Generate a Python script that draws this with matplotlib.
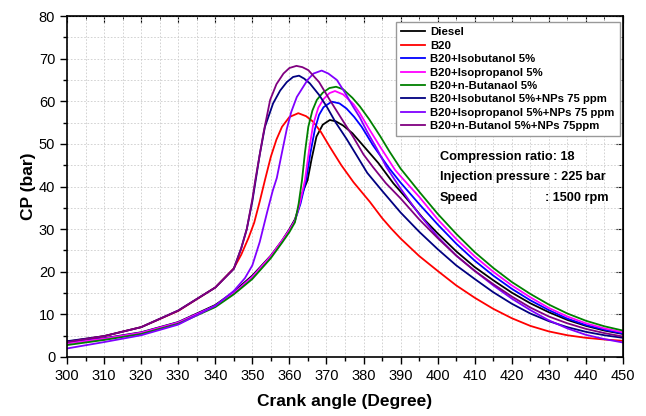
import numpy as np
import matplotlib
matplotlib.use("Agg")
import matplotlib.pyplot as plt
from matplotlib.ticker import MultipleLocator

plt.rcParams['font.family'] = ['Liberation Sans', 'DejaVu Sans']

# crank angle (deg) / cylinder pressure (bar)
diesel_x = [300, 310, 320, 330, 340, 345, 350, 355, 358, 360, 361.5, 362.5, 363.5, 364.9, 366, 367.3,
            369, 370.9, 372.5, 374.5, 377, 380, 384, 388, 392, 396, 400, 405, 410, 415, 420, 425,
            430, 435, 440, 445, 450]
diesel_y = [3.4, 4.4, 5.8, 8.2, 12.2, 15.3, 19.1, 23.8, 27.3, 30.0, 32.3, 35.0, 38.5, 41.5, 46.5, 51.7,
            54.5, 55.6, 55.3, 54.3, 52.5, 49.5, 45.5, 40.8, 36.8, 32.6, 29.0, 24.8, 21.1, 18.0, 15.1, 12.6,
            10.5, 8.7, 7.3, 6.2, 5.4]

b20_x = [300, 310, 320, 330, 340, 345, 347, 349, 350.5, 352, 353.4, 355, 356.5, 358, 360, 362.4,
         364.5, 366.4, 368.5, 370.9, 374, 377.3, 381.7, 385, 387.5, 390, 395, 400, 405, 410, 415, 420,
         425, 430, 435, 440, 445, 450]
b20_y = [3.6, 4.9, 7.0, 10.8, 16.3, 20.8, 24.0, 28.0, 31.5, 36.5, 41.5, 47.0, 51.0, 54.0, 56.3, 57.2,
         56.5, 55.2, 52.8, 49.3, 45.0, 41.0, 36.4, 32.6, 30.1, 27.8, 23.7, 20.2, 16.8, 13.9, 11.3, 9.1,
         7.3, 6.0, 5.1, 4.5, 4.1, 3.8]

isobut_x = [300, 310, 320, 330, 340, 345, 350, 355, 358, 360, 361.5, 363, 364.5, 365.7, 366.9, 368,
            369.2, 371.4, 373.5, 375.4, 377.5, 379.5, 382.6, 386.9, 390, 395, 400, 405, 410, 415, 420,
            425, 430, 435, 440, 445, 450]
isobut_y = [3.3, 4.3, 5.7, 8.1, 12.0, 15.0, 18.8, 23.6, 27.2, 29.7, 32.0, 36.0, 41.5, 48.0, 53.5, 56.8,
            58.6, 59.9, 59.5, 58.3, 56.3, 54.0, 49.6, 44.3, 40.9, 35.9, 31.1, 26.6, 22.6, 19.1, 16.0,
            13.3, 11.0, 9.0, 7.5, 6.4, 5.5]

isoprop_x = [300, 310, 320, 330, 340, 345, 350, 355, 358, 360, 361.5, 362.8, 364.2, 365.3, 366.4, 367.8,
             369.2, 370.8, 372.3, 374.5, 377.3, 379, 381.5, 384.5, 388.5, 390, 395, 400, 405, 410, 415,
             420, 425, 430, 435, 440, 445, 450]
isoprop_y = [3.2, 4.3, 5.7, 8.1, 12.0, 15.0, 18.8, 23.7, 27.3, 29.8, 32.0, 36.0, 41.5, 48.5, 54.5, 58.5,
             60.5, 61.9, 62.4, 61.6, 59.3, 57.2, 53.5, 49.3, 43.9, 42.4, 37.6, 32.3, 27.7, 23.6, 20.0,
             16.8, 14.0, 11.5, 9.5, 7.9, 6.7, 5.8]

nbut_x = [300, 310, 320, 330, 340, 345, 350, 355, 358, 360, 361.5, 362.5, 363.4, 364.2, 365.1, 366.2,
          367.4, 369, 370.8, 372.6, 374.5, 377, 379, 381.5, 384.5, 387, 390, 395, 400, 405, 410, 415,
          420, 425, 430, 435, 440, 445, 450]
nbut_y = [2.8, 4.0, 5.4, 7.8, 11.7, 14.7, 18.3, 23.2, 26.8, 29.3, 31.6, 36.0, 41.5, 48.0, 54.0, 57.8,
          60.3, 62.0, 63.1, 63.4, 62.8, 60.8, 58.8, 55.8, 51.8, 48.2, 44.2, 38.8, 33.6, 28.9, 24.6, 20.9,
          17.6, 14.8, 12.3, 10.2, 8.5, 7.2, 6.2]

isobut_np_x = [300, 310, 320, 330, 340, 345, 347, 348.5, 350, 351, 352, 353.4, 355.6, 357.5, 359.3, 361,
               362.6, 364, 365.5, 368, 370.1, 372.5, 375.4, 378, 381, 385, 390, 395, 400, 405, 410,
               415, 420, 425, 430, 435, 440, 445, 450]
isobut_np_y = [3.7, 4.9, 7.0, 10.9, 16.3, 20.7, 25.5, 30.0, 36.5, 42.0, 47.5, 54.0, 59.5, 62.5, 64.5, 65.7,
               66.0, 65.3, 64.2, 61.5, 58.7, 55.0, 51.2, 47.5, 43.2, 39.0, 33.9, 29.4, 25.3, 21.5, 18.3,
               15.2, 12.5, 10.2, 8.4, 7.0, 5.9, 5.1, 4.5]

isoprop_np_x = [300, 310, 320, 330, 340, 345, 348, 350, 352, 354, 355.5, 356.6, 358, 359.3, 360.5, 362,
                364.9, 366.5, 368.7, 370.5, 372.8, 375, 377, 379, 381, 383.5, 386.2, 390, 395, 400, 405,
                410, 415, 420, 425, 430, 435, 440, 445, 450]
isoprop_np_y = [2.0, 3.5, 5.1, 7.6, 12.0, 15.5, 18.5, 21.5, 27.0, 34.0, 39.0, 42.0, 48.0, 53.5, 57.5, 61.0,
                65.0, 66.5, 67.2, 66.5, 65.0, 62.0, 59.0, 56.2, 52.8, 49.0, 44.5, 39.5, 33.5, 28.2, 23.8,
                20.2, 16.8, 13.7, 11.0, 8.6, 6.7, 5.2, 4.2, 3.4]

nbut_np_x = [300, 310, 320, 330, 340, 345, 347, 348.5, 350, 350.8, 352, 353, 354.8, 356.5, 358.4, 360,
             361.9, 363.5, 365.1, 368, 370.9, 374, 377.3, 380, 382.6, 386, 390, 395, 400, 405, 410,
             415, 420, 425, 430, 435, 440, 445, 450]
nbut_np_y = [3.5, 4.9, 7.0, 10.9, 16.3, 20.7, 25.5, 30.0, 37.0, 41.5, 47.5, 52.5, 60.3, 64.0, 66.5, 67.8,
             68.3, 68.0, 67.3, 64.5, 60.3, 56.0, 51.5, 47.5, 44.5, 40.8, 37.2, 32.3, 27.9, 23.8, 20.2,
             17.1, 14.2, 11.6, 9.5, 7.9, 6.6, 5.6, 4.8]

labels = ['Diesel', 'B20', 'B20+Isobutanol 5%', 'B20+Isopropanol 5%', 'B20+n-Butanaol 5%',
          'B20+Isobutanol 5%+NPs 75 ppm', 'B20+Isopropanol 5%+NPs 75 ppm', 'B20+n-Butanol 5%+NPs 75ppm']
colors = ['#000000', '#ff0000', '#0000ff', '#ff00ff', '#008000', '#000080', '#8000ff', '#800080']
series = [(diesel_x, diesel_y), (b20_x, b20_y), (isobut_x, isobut_y), (isoprop_x, isoprop_y),
          (nbut_x, nbut_y), (isobut_np_x, isobut_np_y), (isoprop_np_x, isoprop_np_y),
          (nbut_np_x, nbut_np_y)]

fig = plt.figure(figsize=(6.46, 4.16), dpi=100)
ax = fig.add_axes([67 / 646, 59 / 416, 556 / 646, 341 / 416])

for (x, y), lab, c in zip(series, labels, colors):
    ax.plot(x, y, color=c, lw=1.3, label=lab)

ax.set_xlim(300, 450)
ax.set_ylim(0, 80)
ax.xaxis.set_major_locator(MultipleLocator(10))
ax.xaxis.set_minor_locator(MultipleLocator(5))
ax.yaxis.set_major_locator(MultipleLocator(10))
ax.yaxis.set_minor_locator(MultipleLocator(5))
ax.grid(which='both', color='#cccccc', ls=(0, (2, 2)), lw=0.6)
ax.set_axisbelow(True)

ax.tick_params(which='both', direction='out', top=False, right=False, labelsize=10.5, width=1)
ax.tick_params(which='major', length=5)
ax.tick_params(which='minor', length=3)
for sp in ax.spines.values():
    sp.set_linewidth(1.2)

# inward ticks on the top and right frame
ax2 = ax.secondary_xaxis('top')
ax2.xaxis.set_major_locator(MultipleLocator(10))
ax2.xaxis.set_minor_locator(MultipleLocator(5))
ax2.tick_params(which='both', direction='in', labeltop=False)
ax2.tick_params(which='major', length=5)
ax2.tick_params(which='minor', length=3)
ax3 = ax.secondary_yaxis('right')
ax3.yaxis.set_major_locator(MultipleLocator(10))
ax3.yaxis.set_minor_locator(MultipleLocator(5))
ax3.tick_params(which='both', direction='in', labelright=False)
ax3.tick_params(which='major', length=5)
ax3.tick_params(which='minor', length=3)

ax.set_xlabel('Crank angle (Degree)', fontsize=12.5, fontweight='bold', labelpad=8)
ax.set_ylabel('CP (bar)', fontsize=12.5, fontweight='bold', labelpad=2)

leg = ax.legend(loc='upper right', bbox_to_anchor=(0.9945, 0.982),
                prop={'weight': 'bold', 'size': 8.2}, frameon=True, fancybox=False,
                edgecolor='#999999', framealpha=1, handlelength=2.1, handletextpad=0.45,
                labelspacing=0.3, borderpad=0.45, borderaxespad=0)
leg.get_frame().set_linewidth(1.0)

txt = dict(fontsize=9.2, fontweight='bold', va='center')
ax.text(400.6, 46.9, 'Compression ratio: 18', **txt)
ax.text(400.6, 42.2, 'Injection pressure : 225 bar', **txt)
ax.text(400.6, 37.3, 'Speed', **txt)
ax.text(428.9, 37.3, ': 1500 rpm', **txt)

fig.savefig('out.png', dpi=100)
